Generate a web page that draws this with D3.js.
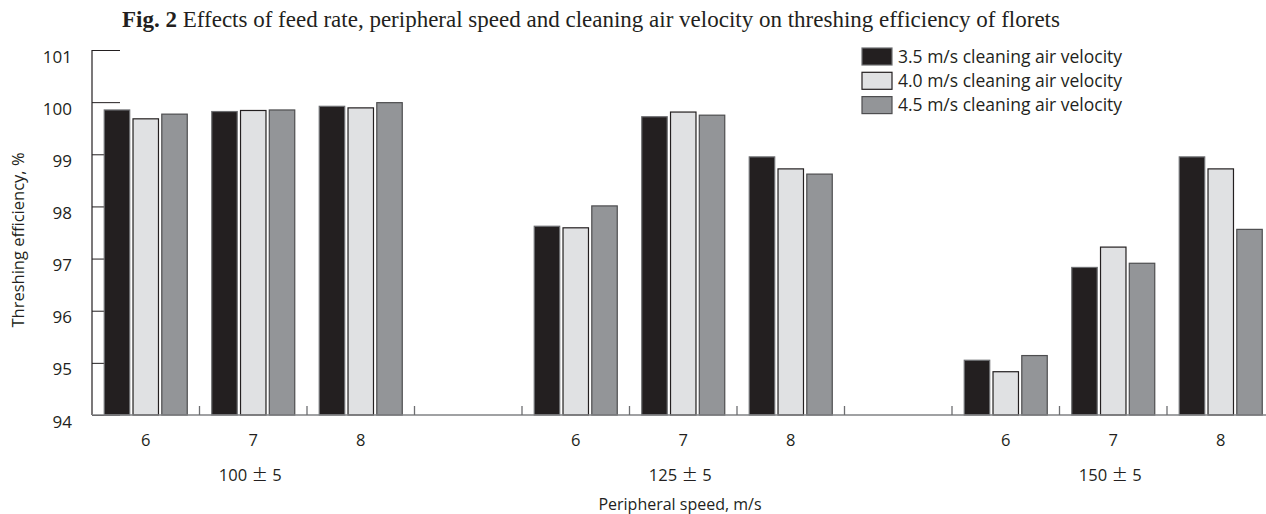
<!DOCTYPE html>
<html>
<head>
<meta charset="utf-8">
<script src="https://cdn.jsdelivr.net/npm/d3@7"></script>
<style>
  html, body { margin: 0; padding: 0; background: #fff; }
  svg { display: block; }
  .sans { font-family: "Open Sans", "Noto Sans", sans-serif; fill: #231f20; }
</style>
</head>
<body>
<svg id="chart" width="1266" height="514"></svg>
<script>
// Feed rate groups, peripheral speeds and threshing efficiency (%) per cleaning air velocity
const feedRates = ["100", "125", "150"];
const feedTolerance = "5";
const speeds = [6, 7, 8];
const seriesNames = [
  "3.5 m/s cleaning air velocity",
  "4.0 m/s cleaning air velocity",
  "4.5 m/s cleaning air velocity"
];
// values ordered: feed rate group, then speed 6, 7, 8
const air35 = [99.85, 99.82, 99.92, 97.62, 99.72, 98.95, 95.05, 96.83, 98.95];
const air40 = [99.68, 99.84, 99.89, 97.59, 99.81, 98.72, 94.83, 97.22, 98.72];
const air45 = [99.77, 99.85, 99.99, 98.01, 99.75, 98.62, 95.14, 96.91, 97.56];
const yTicks = [94, 95, 96, 97, 98, 99, 100, 101];

const seriesValues = [air35, air40, air45];
const fills = ["#231f20", "#e0e1e3", "#939598"];
const strokes = ["#6d6e71", "#231f20", "#4d4d4f"];

const svg = d3.select("#chart");

// Band slots: each group has three speeds, groups separated by one empty slot
const slots = [];
feedRates.forEach((g, gi) => {
  speeds.forEach((s, si) => slots.push({ key: g + "|" + s, group: g, gi, speed: s, idx: gi * 3 + si }));
  if (gi < feedRates.length - 1) slots.push({ key: "gap" + gi, gap: true });
});

const plotLeft = 92, plotBottom = 415, plotTop = 50;
const x = d3.scaleBand().domain(slots.map(d => d.key)).range([plotLeft, plotLeft + 107.5 * slots.length]);
const xs = d3.scaleBand().domain(d3.range(seriesNames.length)).range([11.75, 95.75]).paddingInner(0.08);
const y = d3.scaleLinear().domain([94, 101]).range([plotBottom, plotTop]);

// Title
const title = svg.append("text")
  .attr("x", 591).attr("y", 27)
  .attr("text-anchor", "middle")
  .style("font-family", '"Liberation Serif", "Times New Roman", serif')
  .style("font-size", "23px")
  .attr("fill", "#231f20");
title.append("tspan").style("font-weight", "bold").text("Fig. 2");
title.append("tspan").text(" Effects of feed rate, peripheral speed and cleaning air velocity on threshing efficiency of florets");

// Y axis: ticks point inward and sit behind the bars
const yAxis = svg.append("g").attr("transform", `translate(${plotLeft},0)`)
  .call(d3.axisRight(y).tickValues(yTicks).tickSize(28).tickFormat(""));
yAxis.select(".domain").remove();
yAxis.selectAll(".tick line").attr("stroke", "#231f20").attr("stroke-width", 1);

svg.append("line")
  .attr("x1", plotLeft).attr("x2", plotLeft)
  .attr("y1", y(101)).attr("y2", y(94))
  .attr("stroke", "#231f20").attr("stroke-width", 1.2);

svg.append("g").selectAll("text").data(yTicks).join("text")
  .attr("class", "sans")
  .attr("x", 72).attr("y", d => y(d) + 12.5)
  .attr("text-anchor", "end")
  .style("font-size", "17px")
  .text(d => d);

svg.append("text")
  .attr("class", "sans")
  .attr("transform", `translate(24,240) rotate(-90)`)
  .attr("text-anchor", "middle")
  .style("font-size", "16.5px")
  .text("Threshing efficiency, %");

// Bars
const dataSlots = slots.filter(d => !d.gap);
const barGroups = svg.append("g").selectAll("g").data(dataSlots).join("g")
  .attr("transform", d => `translate(${x(d.key)},0)`);
barGroups.selectAll("rect")
  .data(d => seriesValues.map((vals, si) => ({ si, v: vals[d.idx] })))
  .join("rect")
  .attr("x", d => xs(d.si) + 0.5)
  .attr("width", xs.bandwidth() - 1)
  .attr("y", d => y(d.v))
  .attr("height", d => y(94) - y(d.v))
  .attr("fill", d => fills[d.si])
  .attr("stroke", d => strokes[d.si])
  .attr("stroke-width", 1.2);

// X axis baseline and slot separators
svg.append("line")
  .attr("x1", plotLeft).attr("x2", 1266)
  .attr("y1", plotBottom).attr("y2", plotBottom)
  .attr("stroke", "#808285").attr("stroke-width", 1.6);

svg.append("g").selectAll("line").data(slots.slice(1)).join("line")
  .attr("x1", d => x(d.key)).attr("x2", d => x(d.key))
  .attr("y1", plotBottom).attr("y2", plotBottom - 9)
  .attr("stroke", "#6d6e71").attr("stroke-width", 1.3);

// Speed labels under each cluster
svg.append("g").selectAll("text").data(dataSlots).join("text")
  .attr("class", "sans")
  .attr("x", d => x(d.key) + x.bandwidth() / 2)
  .attr("y", 446)
  .attr("text-anchor", "middle")
  .style("font-size", "16.5px")
  .text(d => d.speed);

// Feed rate group labels (value ± tolerance)
const groupLabels = svg.append("g").selectAll("text").data(feedRates).join("text")
  .attr("class", "sans")
  .attr("x", g => x(g + "|7") + x.bandwidth() / 2 - 3)
  .attr("y", 481)
  .attr("text-anchor", "middle")
  .style("font-size", "16.5px");
groupLabels.append("tspan").text(g => g + " ");
groupLabels.append("tspan")
  .style("font-family", '"Noto Sans CJK JP", "Noto Sans CJK SC", sans-serif')
  .text("±");
groupLabels.append("tspan").text(" " + feedTolerance);

svg.append("text")
  .attr("class", "sans")
  .attr("x", 680).attr("y", 510)
  .attr("text-anchor", "middle")
  .style("font-size", "16px")
  .text("Peripheral speed, m/s");

// Legend
const legend = svg.append("g").attr("transform", "translate(862,48)");
const items = legend.selectAll("g").data(seriesNames).join("g")
  .attr("transform", (d, i) => `translate(0,${i * 24.3})`);
items.append("rect")
  .attr("width", 30).attr("height", 17)
  .attr("fill", (d, i) => fills[i])
  .attr("stroke", (d, i) => strokes[i])
  .attr("stroke-width", 1.2);
items.append("text")
  .attr("class", "sans")
  .attr("x", 36).attr("y", 14.5)
  .style("font-size", "17.5px")
  .text(d => d);
</script>
</body>
</html>
